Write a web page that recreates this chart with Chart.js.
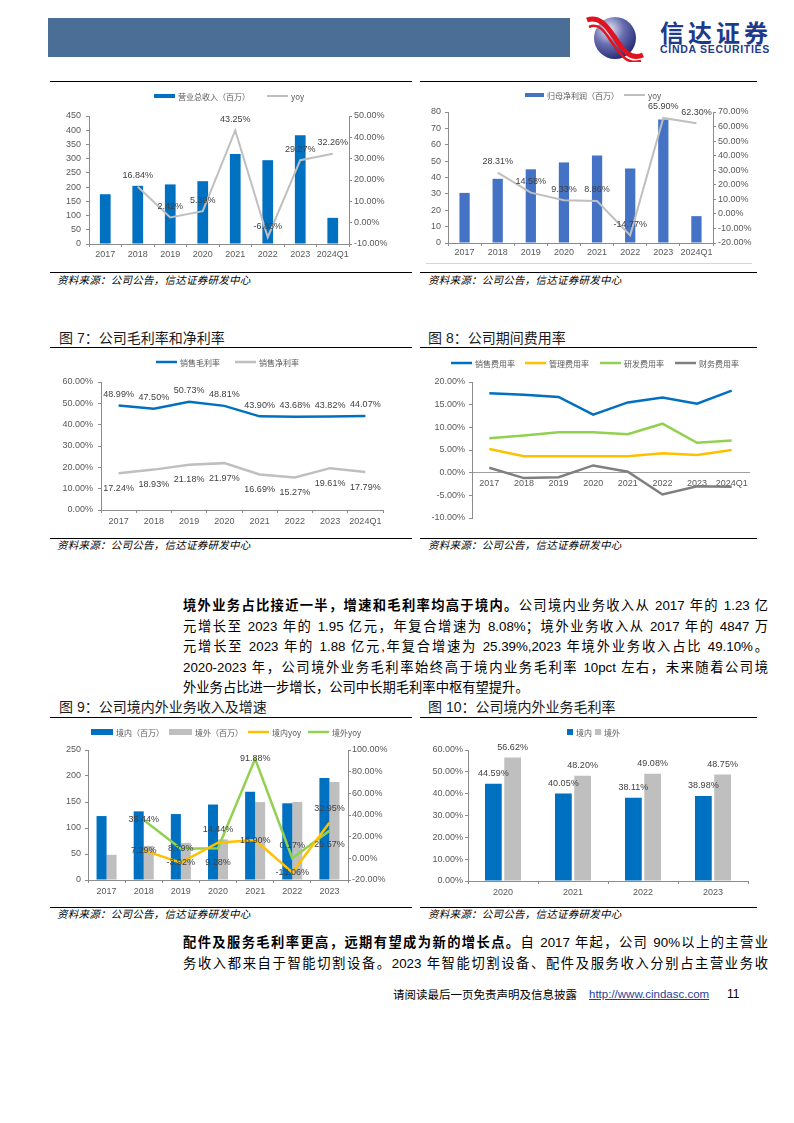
<!DOCTYPE html>
<html><head><meta charset="utf-8">
<script src="https://cdn.jsdelivr.net/npm/chart.js@4.4.1/dist/chart.umd.min.js"></script>
<style>
body{margin:0;width:794px;height:1123px;position:relative;background:#fff;overflow:hidden;font-family:"Liberation Sans",Arial,"Noto Sans CJK SC",sans-serif;color:#000}
.abs{position:absolute}
.hr{position:absolute;height:1px;background:#000}
.title{position:absolute;font-size:14px;line-height:18px;color:#1a1a1a;white-space:nowrap;font-family:"Liberation Sans","Noto Sans CJK SC",sans-serif}
.src{position:absolute;font-size:10.5px;line-height:14px;font-style:italic;white-space:nowrap;letter-spacing:0.25px;font-family:"Noto Sans CJK SC",sans-serif}
canvas{position:absolute}
.para{position:absolute;left:183px;width:585px;font-size:13.3px;line-height:20.5px}
.para .j{text-align:justify;text-align-last:justify}
.para b{font-family:"Liberation Sans","Noto Sans CJK SC";font-weight:bold}
</style></head>
<body>
<!-- header -->
<div class="abs" style="left:48px;top:18px;width:522px;height:39px;background:#4B6E96"></div>
<svg class="abs" style="left:586px;top:14px" width="58" height="48" viewBox="0 0 58 48">
<defs><radialGradient id="g" cx="0.35" cy="0.3" r="0.8"><stop offset="0" stop-color="#eceef8"/><stop offset="0.45" stop-color="#6a6fb0"/><stop offset="1" stop-color="#1c1f6b"/></radialGradient></defs>
<circle cx="29" cy="24" r="21" fill="url(#g)"/>
<path d="M1 6 C14 1, 22 14, 29 24 S 43 47, 57 41" stroke="#e0141e" stroke-width="5" fill="none"/>
<path d="M3 13 C14 8, 20 20, 27 30 S 41 51, 55 47" stroke="#e0141e" stroke-width="2.5" fill="none"/>
</svg>
<div class="abs" style="left:660px;top:17px;font-size:24px;line-height:30px;font-weight:bold;color:#1E3A8A;letter-spacing:4px;font-family:'Noto Sans CJK SC'">信达证券</div>
<div class="abs" style="left:660px;top:43px;font-size:10.5px;line-height:12px;font-weight:bold;color:#1E3A8A;letter-spacing:0.7px;font-family:'Liberation Sans'">CINDA SECURITIES</div>

<!-- top charts frame -->
<div class="hr" style="left:50px;top:81px;width:362px"></div>
<div class="hr" style="left:420px;top:81px;width:337px"></div>
<canvas id="c1" width="362" height="178" style="left:50px;top:86px"></canvas>
<canvas id="c2" width="340" height="177" style="left:420px;top:86px"></canvas>
<div class="abs" style="left:426px;top:263px;width:326px;height:1px;background:#FFEB00"></div>
<div class="hr" style="left:50px;top:272px;width:362px"></div>
<div class="hr" style="left:420px;top:272px;width:337px"></div>
<div class="src" style="left:57px;top:273px">资料来源：公司公告，信达证券研发中心</div>
<div class="src" style="left:428px;top:273px">资料来源：公司公告，信达证券研发中心</div>

<!-- fig 7 / 8 -->
<div class="title" style="left:59px;top:329px">图 7：公司毛利率和净利率</div>
<div class="title" style="left:428px;top:329px">图 8：公司期间费用率</div>
<div class="hr" style="left:50px;top:347px;width:362px"></div>
<div class="hr" style="left:420px;top:347px;width:337px"></div>
<canvas id="c7" width="362" height="178" style="left:50px;top:352px"></canvas>
<canvas id="c8" width="340" height="180" style="left:420px;top:352px"></canvas>
<div class="hr" style="left:50px;top:538px;width:362px"></div>
<div class="hr" style="left:420px;top:538px;width:337px"></div>
<div class="src" style="left:57px;top:538px">资料来源：公司公告，信达证券研发中心</div>
<div class="src" style="left:428px;top:538px">资料来源：公司公告，信达证券研发中心</div>

<!-- paragraph -->
<div class="para" style="top:596px">
<div class="j"><b>境外业务占比接近一半，增速和毛利率均高于境内。</b>公司境内业务收入从 2017 年的 1.23 亿</div>
<div class="j">元增长至 2023 年的 1.95 亿元，年复合增速为 8.08%；境外业务收入从 2017 年的 4847 万</div>
<div class="j">元增长至 2023 年的 1.88 亿元,年复合增速为 25.39%,2023 年境外业务收入占比 49.10%。</div>
<div class="j">2020-2023 年，公司境外业务毛利率始终高于境内业务毛利率 10pct 左右，未来随着公司境</div>
<div>外业务占比进一步增长，公司中长期毛利率中枢有望提升。</div>
</div>

<!-- fig 9 / 10 -->
<div class="title" style="left:59px;top:698px">图 9：公司境内外业务收入及增速</div>
<div class="title" style="left:428px;top:698px">图 10：公司境内外业务毛利率</div>
<div class="hr" style="left:50px;top:717px;width:362px"></div>
<div class="hr" style="left:420px;top:717px;width:337px"></div>
<canvas id="c9" width="362" height="178" style="left:50px;top:722px"></canvas>
<canvas id="c10" width="340" height="181" style="left:420px;top:722px"></canvas>
<div class="hr" style="left:50px;top:907px;width:362px"></div>
<div class="hr" style="left:420px;top:907px;width:337px"></div>
<div class="src" style="left:57px;top:907px">资料来源：公司公告，信达证券研发中心</div>
<div class="src" style="left:428px;top:907px">资料来源：公司公告，信达证券研发中心</div>

<!-- bottom paragraph -->
<div class="para" style="top:933px">
<div class="j"><b>配件及服务毛利率更高，远期有望成为新的增长点。</b>自 2017 年起，公司 90%以上的主营业</div>
<div class="j">务收入都来自于智能切割设备。2023 年智能切割设备、配件及服务收入分别占主营业务收</div>
</div>

<!-- footer -->
<div class="abs" style="left:393px;top:986px;font-size:11.5px;line-height:16px;white-space:nowrap;font-family:'Noto Sans CJK SC'">请阅读最后一页免责声明及信息披露</div>
<div class="abs" style="left:589px;top:986px;font-size:11.5px;line-height:16px;color:#1F3F9A;text-decoration:underline;white-space:nowrap">http://www.cindasc.com</div>
<div class="abs" style="left:727px;top:986px;font-size:12px;line-height:16px">11</div>

<script>
// ---------- data ----------
const years8 = ['2017','2018','2019','2020','2021','2022','2023','2024Q1'];
const years7 = ['2017','2018','2019','2020','2021','2022','2023'];
const years4 = ['2020','2021','2022','2023'];

const revenue = [175, 204.5, 209.5, 220.8, 316.3, 294.7, 382, 92];
const revenueYoy = [null, 16.84, 2.42, 5.39, 43.25, -6.83, 29.27, 32.26];

const netProfit = [30.6, 39.2, 45.0, 49.2, 53.4, 45.5, 75.4, 16.4];
const netProfitYoy = [null, 28.31, 14.58, 9.33, 8.86, -14.77, 65.90, 62.30];

const grossMargin = [48.99, 47.50, 50.73, 48.81, 43.90, 43.68, 43.82, 44.07];
const netMargin = [17.24, 18.93, 21.18, 21.97, 16.69, 15.27, 19.61, 17.79];

const salesExpRate = [17.5, 17.2, 16.7, 12.8, 15.5, 16.6, 15.2, 18.1];
const adminExpRate = [5.2, 3.6, 3.6, 3.6, 3.6, 4.3, 3.9, 5.0];
const rdExpRate = [7.6, 8.2, 8.9, 8.9, 8.5, 10.8, 6.6, 7.1];
const finExpRate = [1.1, -1.2, -1.0, 1.6, 0.2, -4.8, -3.0, -3.1];

const domesticRev = [123, 132.0, 126.8, 145.1, 169.6, 147.5, 196.1];
const overseasRev = [48.5, 65.6, 71.4, 78.1, 149.8, 150.0, 188.4];
const domesticYoy = [null, 7.29, -3.92, 14.44, 16.90, -13.06, 32.95];
const overseasYoy = [null, 35.44, 8.79, 9.28, 91.88, 0.17, 25.57];

const domesticGM = [44.59, 40.05, 38.11, 38.98];
const overseasGM = [56.62, 48.20, 49.08, 48.75];

// ---------- helpers ----------
Chart.defaults.font.family = '"Liberation Sans", Arial, sans-serif';
Chart.defaults.animation = false;
Chart.defaults.plugins.tooltip.enabled = false;
Chart.defaults.plugins.legend.display = false;

const AXIS = '#8c8c8c', TXT = '#595959', LBL = '#404040';
const BLUE = '#0070C0', BLUE2 = '#4472C4', GRAY = '#BFBFBF', ORANGE = '#FFC000', GREEN = '#92D050', DARK = '#7F7F7F';
const pct = v => Number(v).toFixed(2) + '%';

const valueLabels = {
  id: 'valueLabels',
  afterDatasetsDraw(chart) {
    const ctx = chart.ctx;
    chart.data.datasets.forEach((ds, i) => {
      const cfg = ds.valueLabel; if (!cfg) return;
      const meta = chart.getDatasetMeta(i);
      ctx.save();
      ctx.font = (cfg.size || 9) + 'px "Liberation Sans", Arial';
      ctx.fillStyle = LBL; ctx.textAlign = 'center'; ctx.textBaseline = 'middle';
      meta.data.forEach((el, j) => {
        const v = ds.data[j]; if (v == null) return;
        const dy = Array.isArray(cfg.dy) ? cfg.dy[j] : cfg.dy;
        ctx.fillText(pct(v), el.x, el.y + dy);
      });
      ctx.restore();
    });
  }
};
const pageLegend = {
  id: 'pageLegend',
  afterDraw(chart, args, o) {
    if (!o || !o.items) return;
    const ctx = chart.ctx; ctx.save();
    ctx.font = '8px "Noto Sans CJK SC"';
    ctx.textBaseline = 'middle'; ctx.textAlign = 'left';
    const y = o.y;
    o.items.forEach(it => {
      const ds = chart.data.datasets[it.ds];
      let w;
      if (it.type === 'line') {
        w = 21; ctx.strokeStyle = ds.borderColor; ctx.lineWidth = ds.borderWidth;
        ctx.beginPath(); ctx.moveTo(it.x, y); ctx.lineTo(it.x + w, y); ctx.stroke();
      } else if (it.type === 'rect') {
        w = it.w || 21; const h = it.h || 4;
        ctx.fillStyle = ds.backgroundColor; ctx.fillRect(it.x, y - h / 2, w, h);
      } else {
        w = 6; ctx.fillStyle = ds.backgroundColor; ctx.fillRect(it.x, y - 3, 6, 6);
      }
      ctx.fillStyle = TXT;
      ctx.fillText(ds.label, it.x + w + 3, y + 0.5);
    });
    ctx.restore();
  }
};
Chart.register(valueLabels, pageLegend);

function yAxis(o) {
  return {
    position: o.position || 'left', min: o.min, max: o.max,
    grid: { drawOnChartArea: false, tickLength: 3, color: AXIS },
    border: { color: AXIS },
    ticks: { stepSize: o.step, padding: o.pad, color: TXT, font: { size: 9 }, callback: o.fmt || (v => v) },
    afterFit: s => { s.width = o.width; }
  };
}
function xAxis(o) {
  return {
    type: 'category', offset: true,
    grid: { drawOnChartArea: false, tickLength: 3, color: AXIS, offset: true },
    border: { color: AXIS },
    ticks: { padding: o.pad, color: TXT, font: { size: 9 }, maxRotation: 0, autoSkip: false },
    afterFit: s => { s.height = o.height; }
  };
}
function line(label, data, color, width, axis, valueLabel) {
  return { type: 'line', label, data, borderColor: color, backgroundColor: color, borderWidth: width,
    pointRadius: 0, tension: 0, yAxisID: axis, order: 0, valueLabel };
}

// ---------- chart 1: revenue ----------
new Chart(document.getElementById('c1'), {
  data: { labels: years8, datasets: [
    line('yoy', revenueYoy, GRAY, 2, 'y1', { dy: -11 }),
    { type: 'bar', label: '营业总收入（百万）', data: revenue, backgroundColor: BLUE, yAxisID: 'y', order: 1,
      categoryPercentage: 1, barPercentage: 0.33 }
  ]},
  options: { responsive: false, layout: { padding: { top: 30, left: 0, right: 0, bottom: 0 } },
    scales: {
      x: xAxis({ pad: 2, height: 20 }),
      y: yAxis({ min: 0, max: 450, step: 50, pad: 5, width: 39 }),
      y1: yAxis({ position: 'right', min: -10, max: 50, step: 10, pad: 2, width: 63, fmt: pct })
    },
    plugins: { pageLegend: { y: 10, items: [{ ds: 1, type: 'rect', x: 104 }, { ds: 0, type: 'line', x: 217 }] } }
  }
});

// ---------- chart 2: net profit ----------
new Chart(document.getElementById('c2'), {
  data: { labels: years8, datasets: [
    line('yoy', netProfitYoy, GRAY, 2, 'y1', { dy: -11 }),
    { type: 'bar', label: '归母净利润（百万）', data: netProfit, backgroundColor: BLUE2, yAxisID: 'y', order: 1,
      categoryPercentage: 1, barPercentage: 0.31 }
  ]},
  options: { responsive: false, layout: { padding: { top: 26, left: 0, right: 0, bottom: 0 } },
    scales: {
      x: xAxis({ pad: 1, height: 20 }),
      y: yAxis({ min: 0, max: 80, step: 10, pad: 4, width: 28 }),
      y1: yAxis({ position: 'right', min: -20, max: 70, step: 10, pad: 2, width: 47, fmt: pct })
    },
    plugins: { pageLegend: { y: 9, items: [{ ds: 1, type: 'rect', x: 105, w: 19 }, { ds: 0, type: 'line', x: 204 }] } }
  }
});

// ---------- fig 7: margins ----------
new Chart(document.getElementById('c7'), {
  type: 'line',
  data: { labels: years8, datasets: [
    line('销售毛利率', grossMargin, BLUE, 2.5, 'y', { dy: -11 }),
    line('销售净利率', netMargin, GRAY, 2.5, 'y', { dy: 15 })
  ]},
  options: { responsive: false, layout: { padding: { top: 30, left: 0, right: 29, bottom: 0 } },
    scales: {
      x: xAxis({ pad: 3, height: 20 }),
      y: yAxis({ min: 0, max: 60, step: 10, pad: 5, width: 51, fmt: pct })
    },
    plugins: { pageLegend: { y: 10, items: [{ ds: 0, type: 'line', x: 106 }, { ds: 1, type: 'line', x: 185 }] } }
  }
});

// ---------- fig 8: expense ratios ----------
const x8 = xAxis({ pad: -3, height: 0 });
x8.position = { y: 0 };
x8.grid = { display: false };
x8.border = { display: true, color: '#a0a0a0' };
new Chart(document.getElementById('c8'), {
  type: 'line',
  data: { labels: years8, datasets: [
    line('销售费用率', salesExpRate, BLUE, 2.5, 'y'),
    line('管理费用率', adminExpRate, ORANGE, 2.5, 'y'),
    line('研发费用率', rdExpRate, GREEN, 2.5, 'y'),
    line('财务费用率', finExpRate, DARK, 2.5, 'y')
  ]},
  options: { responsive: false, layout: { padding: { top: 30, left: 0, right: 11, bottom: 14 } },
    scales: {
      x: x8,
      y: yAxis({ min: -10, max: 20, step: 5, pad: 4, width: 52, fmt: pct })
    },
    plugins: { pageLegend: { y: 11, items: [
      { ds: 0, type: 'line', x: 31 }, { ds: 1, type: 'line', x: 105 },
      { ds: 2, type: 'line', x: 180 }, { ds: 3, type: 'line', x: 255 }] } }
  }
});

// ---------- fig 9: domestic / overseas revenue ----------
new Chart(document.getElementById('c9'), {
  data: { labels: years7, datasets: [
    { type: 'bar', label: '境内（百万）', data: domesticRev, backgroundColor: BLUE, yAxisID: 'y', order: 2,
      categoryPercentage: 0.54, barPercentage: 1 },
    { type: 'bar', label: '境外（百万）', data: overseasRev, backgroundColor: GRAY, yAxisID: 'y', order: 2,
      categoryPercentage: 0.54, barPercentage: 1 },
    line('境内yoy', domesticYoy, ORANGE, 2.5, 'y1', { dy: [0, 0, 0, -13, 0, 0, -14] }),
    line('境外yoy', overseasYoy, GREEN, 2.5, 'y1', { dy: [0, 0, 0, 14, 0, -13, 14] })
  ]},
  options: { responsive: false, layout: { padding: { top: 28, left: 0, right: 0, bottom: 0 } },
    scales: {
      x: xAxis({ pad: 3, height: 20 }),
      y: yAxis({ min: 0, max: 250, step: 50, pad: 4, width: 38 }),
      y1: yAxis({ position: 'right', min: -20, max: 100, step: 20, pad: 1, width: 64, fmt: pct })
    },
    plugins: { pageLegend: { y: 10, items: [
      { ds: 0, type: 'rect', x: 41, w: 22, h: 6 }, { ds: 1, type: 'rect', x: 119, w: 23, h: 6 },
      { ds: 2, type: 'line', x: 198 }, { ds: 3, type: 'line', x: 258 }] } }
  }
});

// ---------- fig 10: gross margin by region ----------
new Chart(document.getElementById('c10'), {
  type: 'bar',
  data: { labels: years4, datasets: [
    { label: '境内', data: domesticGM, backgroundColor: BLUE, categoryPercentage: 0.55, barPercentage: 0.87, valueLabel: { dy: -10 } },
    { label: '境外', data: overseasGM, backgroundColor: GRAY, categoryPercentage: 0.55, barPercentage: 0.87, valueLabel: { dy: -10 } }
  ]},
  options: { responsive: false, layout: { padding: { top: 28, left: 0, right: 12, bottom: 0 } },
    scales: {
      x: xAxis({ pad: 3, height: 22 }),
      y: yAxis({ min: 0, max: 60, step: 10, pad: 2, width: 48, fmt: pct })
    },
    plugins: { pageLegend: { y: 10, items: [{ ds: 0, type: 'square', x: 147 }, { ds: 1, type: 'square', x: 175 }] } }
  }
});
</script>
</body></html>
